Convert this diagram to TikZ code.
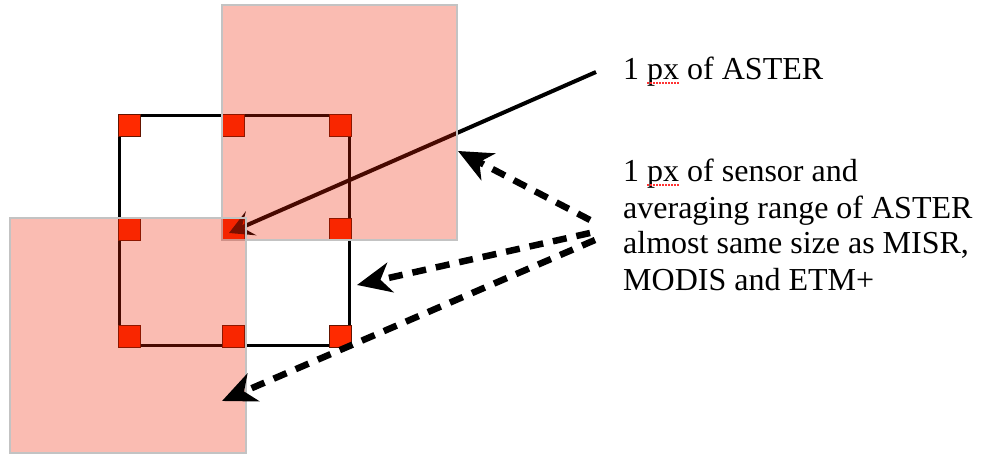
\documentclass[tikz,border=0pt]{standalone}
\usepackage{fontspec}
\setmainfont{Liberation Serif}
\usetikzlibrary{arrows.meta}
\definecolor{pinkfill}{RGB}{238,32,0}
\definecolor{redsq}{RGB}{255,42,0}
\definecolor{redsqborder}{RGB}{100,20,0}
\definecolor{pinkborder}{RGB}{195,195,195}
\begin{document}
\begin{tikzpicture}[x=1pt,y=-1pt,
  pinksq/.style={fill=pinkfill, fill opacity=0.3, draw=pinkborder, line width=1.5pt},
  pxsq/.style={fill=redsq, draw=redsqborder, line width=1.2pt},
  dasharrow/.style={line width=6.5pt, dash pattern=on 14pt off 10pt, -{Stealth[length=34pt,width=30pt,inset=10pt]}},
  solidarrow/.style={line width=4pt, -{Stealth[length=24pt,width=26pt,inset=10pt]}},
  lbl/.style={font=\fontsize{32}{36}\selectfont, inner sep=0pt, align=left},
  squig/.style={red!80, line width=1.2pt, dash pattern=on 1.5pt off 1.5pt}
]
\useasboundingbox (0,0) rectangle (987,454);
% averaging range (black square)
\draw[line width=3.2pt] (119.5,115.5) rectangle (349.5,345.5);
% ASTER pixel corner markers
\foreach \x in {118,222,329}{
  \foreach \y in {114,218,325}{
    \draw[pxsq] (\x+0.6,\y+0.6) rectangle (\x+22.4,\y+22.4);
  }
}
% coordinates
\coordinate (s1) at (596,72);
\coordinate (t1) at (229,233);
\coordinate (s2) at (590,220);
\coordinate (t2) at (458,151);
\coordinate (s3) at (590,233);
\coordinate (t3) at (357,285);
\coordinate (s4) at (595,240);
\coordinate (t4) at (222,401);
% solid arrow (under the pink squares)
\draw[solidarrow] (s1) -- (t1);
% sensor pixels
\draw[pinksq] (222,5) rectangle (457,240);
\draw[pinksq] (10,218) rectangle (246,453);
% dashed arrows
\draw[dasharrow] (s2) -- (t2);
\draw[dasharrow] (s3) -- (t3);
\draw[dasharrow] (s4) -- (t4);
% labels
\node[lbl, anchor=base west] (aster) at (623,80) {1 px of ASTER};
\node[lbl, anchor=base west] (sensor) at (623,290) {1 px of sensor and\\averaging range of ASTER\\almost same size as MISR,\\MODIS and ETM+};
\draw[squig] (647,83) -- (679,83);
\draw[squig] (647,185) -- (679,185);
\end{tikzpicture}
\end{document}
